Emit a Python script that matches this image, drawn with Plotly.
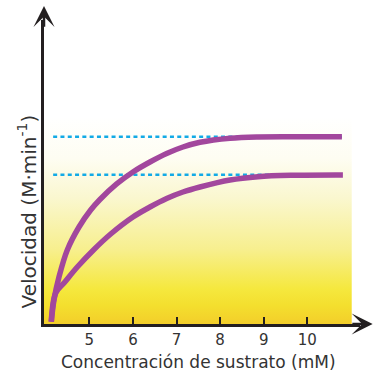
import plotly.graph_objects as pgo

# substrate concentration (mM) and velocity readings for the two curves
X_UPPER = [4.127, 4.189, 4.304, 4.494, 4.763, 5.031, 5.244, 5.627, 6.001, 6.391,
           6.774, 7.148, 7.538, 8.226, 8.868, 9.832, 10.795]
V_UPPER = [0.072, 0.755, 1.478, 2.327, 3.050, 3.585, 3.915, 4.403, 4.780, 5.094,
           5.362, 5.566, 5.714, 5.843, 5.884, 5.890, 5.890]

X_LOWER = [4.127, 4.228, 4.419, 4.724, 5.107, 5.490, 6.001, 6.391, 6.774, 7.148,
           7.538, 8.226, 8.868, 9.648, 10.818]
V_LOWER = [0.072, 0.975, 1.289, 1.792, 2.343, 2.830, 3.365, 3.679, 3.947, 4.151,
           4.308, 4.528, 4.632, 4.676, 4.686]

# Vmax reference levels (dashed)
VMAX_X = [4.17, 10.84]
VMAX_LEVELS = [5.89, 4.69]

X_TICKS = [5, 6, 7, 8, 9, 10]

X_RANGE = [3.96, 11.21]
Y_RANGE = [0, 9.56]

PURPLE = '#A2479D'
CYAN = '#12AAE6'
INK = '#231F20'
FONT = 'DejaVu Sans'

fig = pgo.Figure()

# yellow-to-white gradient backdrop
fig.add_trace(pgo.Scatter(
    x=[X_RANGE[0], 11.02, 11.02, X_RANGE[0], X_RANGE[0]],
    y=[0, 0, 6.5, 6.5, 0],
    mode='none',
    fill='toself',
    fillgradient=dict(
        type='vertical',
        colorscale=[
            [0.0, '#F3CE2A'],
            [0.09, '#F4DF2E'],
            [0.17, '#F5E83E'],
            [0.36, '#F7EF8E'],
            [0.61, '#FAF7CF'],
            [0.80, '#FEFDF2'],
            [1.0, '#FFFFFF'],
        ],
    ),
    hoverinfo='skip',
    showlegend=False,
))

for level in VMAX_LEVELS:
    fig.add_trace(pgo.Scatter(
        x=VMAX_X,
        y=[level, level],
        mode='lines',
        line=dict(color=CYAN, width=2.5, dash='4px,3.3px'),
        showlegend=False,
    ))

for xs, vs in [(X_LOWER, V_LOWER), (X_UPPER, V_UPPER)]:
    fig.add_trace(pgo.Scatter(
        x=xs,
        y=vs,
        mode='lines',
        line=dict(color=PURPLE, width=5.5, shape='spline', smoothing=1.0),
        showlegend=False,
    ))

# arrow heads on the axes
arrow = dict(showarrow=True, arrowhead=3, arrowsize=1.4, arrowwidth=2.5,
             arrowcolor=INK, text='', axref='x', ayref='y', xref='x', yref='y')
fig.add_annotation(x=X_RANGE[0], y=10.0, ax=X_RANGE[0], ay=9.3, **arrow)
fig.add_annotation(x=11.5, y=0, ax=11.0, ay=0, **arrow)

fig.add_annotation(
    text='Concentración de sustrato (mM)',
    xref='paper', yref='paper', x=0.4905, y=-0.126,
    xanchor='center', yanchor='middle', showarrow=False,
    font=dict(family=FONT, size=17, color='#333333'),
)
fig.add_annotation(
    text='Velocidad (M·min<sup>-1</sup>)',
    xref='paper', yref='paper', x=-0.054, y=0.37,
    xanchor='center', yanchor='middle', showarrow=False, textangle=-90,
    font=dict(family=FONT, size=20, color='#333333'),
)

fig.update_layout(
    width=375,
    height=373,
    margin=dict(l=44, r=15, t=20, b=49),
    paper_bgcolor='white',
    plot_bgcolor='white',
    xaxis=dict(
        range=X_RANGE,
        tickvals=X_TICKS,
        ticks='inside',
        ticklen=7,
        tickwidth=2,
        tickcolor=INK,
        showline=True,
        linewidth=2.5,
        linecolor=INK,
        showgrid=False,
        zeroline=False,
        ticklabelstandoff=0,
        tickfont=dict(family=FONT, size=15, color='#333333'),
    ),
    yaxis=dict(
        range=Y_RANGE,
        showline=True,
        linewidth=2.5,
        linecolor=INK,
        showgrid=False,
        zeroline=False,
        showticklabels=False,
        ticks='',
    ),
)

fig.write_html('out.html', config={'displayModeBar': False},
               post_script="document.body.style.margin = '0';")
